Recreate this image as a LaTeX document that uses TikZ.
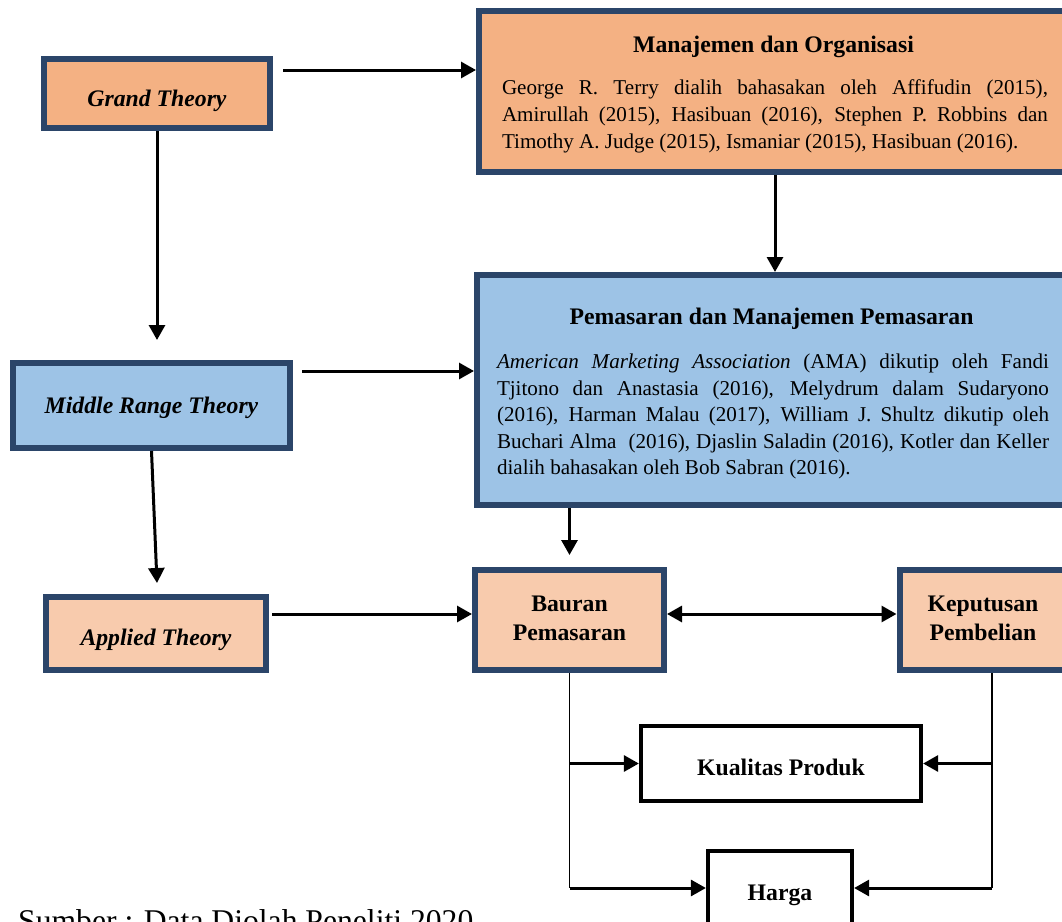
\documentclass[tikz,border=0pt]{standalone}
\usepackage{fontspec}
\setmainfont{Liberation Serif}
\usepackage{xcolor}
\usetikzlibrary{arrows.meta, positioning}

\definecolor{oranye}{HTML}{F4B183}
\definecolor{biru}{HTML}{9DC3E6}
\definecolor{peach}{HTML}{F8CBAD}
\definecolor{navy}{HTML}{2B4569}

\begin{document}
\begin{tikzpicture}[x=0.2mm, y=-0.2mm,
  kotak/.style={draw=navy, line width=1.2mm, inner sep=0pt},
  kotakhitam/.style={draw=black, line width=0.85mm, fill=white, inner sep=0pt},
  label/.style={font=\fontsize{13.5}{16.5}\selectfont\bfseries, align=center},
  teori/.style={font=\fontsize{13.5}{16.5}\selectfont\bfseries\itshape},
  isi/.style={text width=110mm, align=justify, inner sep=0pt},
  panah/.style={line width=0.6mm, -{Triangle[length=3mm, width=3.2mm]}},
  panahdua/.style={line width=0.6mm, {Triangle[length=3mm, width=3.2mm]}-{Triangle[length=3mm, width=3.2mm]}},
  garis/.style={line width=0.3mm}]
\useasboundingbox (0,0) rectangle (1062,922);

% kotak teori (kiri)
\node[kotak, fill=oranye, minimum width=45.2mm, minimum height=13.8mm] (gt) at (157,93.5) {};
\node[teori] (gtteks) at ([yshift=-1.4mm]gt.center) {Grand Theory};
\node[kotak, fill=biru, minimum width=55.4mm, minimum height=17mm] (mrt) at (151.5,405.5) {};
\node[teori] (mrtteks) at ([yshift=-0.4mm]mrt.center) {Middle Range Theory};
\node[kotak, fill=peach, minimum width=44mm, minimum height=14.6mm] (app) at (156,633.5) {};
\node[teori] (appteks) at ([yshift=-1.2mm]app.center) {Applied Theory};

% kotak besar (kanan)
\node[kotak, fill=oranye, minimum width=118.4mm, minimum height=32.2mm] (man) at (775,91.5) {};
\node[label] (mantitle) at (773.5,46.5) {Manajemen dan Organisasi};
\node[isi, anchor=north, text width=109.2mm, font=\fontsize{12}{15.4}\selectfont] (manisi) at (775,79)
  {George R. Terry dialih bahasakan oleh Affifudin (2015),\linebreak
   Amirullah (2015), Hasibuan (2016), Stephen P. Robbins dan\linebreak
   Timothy A. Judge (2015), Ismaniar (2015), Hasibuan (2016).};

\node[kotak, fill=biru, minimum width=119.2mm, minimum height=46mm] (pem) at (775,390) {};
\node[label] (pemtitle) at (771.5,318.5) {Pemasaran dan Manajemen Pemasaran};
\node[isi, anchor=north, text width=110.4mm, font=\fontsize{12}{15}\selectfont] (pemisi) at (773,354)
  {\textit{American Marketing Association} (AMA) dikutip oleh Fandi\linebreak
   Tjitono dan Anastasia (2016), Melydrum dalam Sudaryono\linebreak
   (2016), Harman Malau (2017), William J. Shultz dikutip oleh\linebreak
   Buchari Alma~ (2016), Djaslin Saladin (2016), Kotler dan Keller\linebreak
   dialih bahasakan oleh Bob Sabran (2016).};

% variabel
\node[kotak, fill=peach, minimum width=37.8mm, minimum height=20mm] (bau) at (569.5,620) {};
\node[label] (bauteks) at ([yshift=0.4mm]bau.center) {Bauran\\Pemasaran};
\node[kotak, fill=peach, minimum width=33.4mm, minimum height=20mm] (kep) at (983,620) {};
\node[label] (kepteks) at ([yshift=0.4mm]kep.center) {Keputusan\\Pembelian};
\node[kotakhitam, minimum width=56mm, minimum height=15mm] (kua) at (781,763.5) {};
\node[label] (kuateks) at ([yshift=-0.8mm]kua.center) {Kualitas Produk};
\node[kotakhitam, minimum width=28.8mm, minimum height=14.8mm] (har) at (780,888) {};
\node[label] (harteks) at ([yshift=-1.4mm]har.center) {Harga};

% panah teori
\coordinate (gtkanan) at (283,70);
\draw[panah] (gtkanan) -- (gtkanan -| man.west);
\draw[panah, shorten >=4mm] (gt.south) -- (gt.south |- mrt.north);
\coordinate (mrtkanan) at (302,371);
\draw[panah] (mrtkanan) -- (mrtkanan -| pem.west);
\coordinate (appatas) at (157,583);
\draw[panah] (mrt.south) -- (appatas);
\coordinate (appkanan) at (272,614);
\draw[panah] (appkanan) -- (appkanan -| bau.west);

% panah antar kotak
\draw[panah] (man.south) -- (pem.north);
\draw[panah, shorten >=2.4mm] (pem.south -| bau.north) -- (bau.north);
\draw[panahdua] ([yshift=1.2mm]bau.east) -- ([yshift=1.2mm]kep.west);

% cabang ke dimensi
\coordinate (kepbawah) at ([xshift=1.8mm]kep.south);
\draw[garis] (bau.south) -- (bau.south |- har.west);
\draw[panah] (bau.south |- kua.west) -- (kua.west);
\draw[panah] (bau.south |- har.west) -- (har.west);
\draw[garis] (kepbawah) -- (kepbawah |- har.east);
\draw[panah] (kepbawah |- kua.east) -- (kua.east);
\draw[panah] (kepbawah |- har.east) -- (har.east);

% sumber
\node[anchor=base west, font=\fontsize{18}{21}\selectfont] (sumber) at (12,931) {Sumber : Data Diolah Peneliti 2020};
\end{tikzpicture}
\end{document}
